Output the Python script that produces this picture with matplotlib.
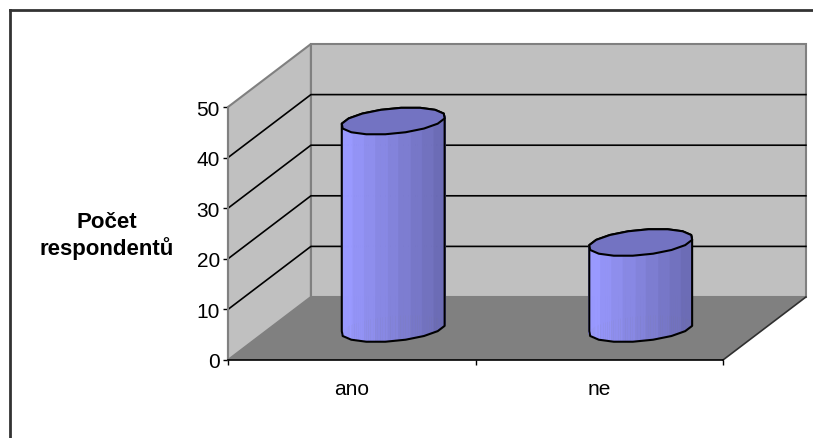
import numpy as np
import matplotlib
matplotlib.use('Agg')
import matplotlib.pyplot as plt
from matplotlib.patches import Polygon
from matplotlib.lines import Line2D

# data
kategorie = ['ano', 'ne']
pocty = [41, 17]
osa_y = [0, 10, 20, 30, 40, 50]
nazev_osy = 'Počet\nrespondentů'

plt.rcParams['font.family'] = ['Liberation Sans', 'DejaVu Sans']

# oblique depth offset of the back wall (category units, value units)
DX = 0.335
DY = 12.45
R = 0.1976     # cylinder radius along x
RZ = 0.214     # cylinder radius as fraction of depth
STENY = 16     # facets of the top lid
PRUHY = 9      # shading bands on the side


def P(x, v, d):
    return (x + d * DX, v + d * DY)


def obal(body):
    # convex hull (monotone chain)
    pts = sorted(set(body))

    def cross(o, a, b):
        return (a[0] - o[0]) * (b[1] - o[1]) - (a[1] - o[1]) * (b[0] - o[0])

    dolni, horni = [], []
    for p in pts:
        while len(dolni) >= 2 and cross(dolni[-2], dolni[-1], p) <= 0:
            dolni.pop()
        dolni.append(p)
    for p in reversed(pts):
        while len(horni) >= 2 and cross(horni[-2], horni[-1], p) <= 0:
            horni.pop()
        horni.append(p)
    return dolni[:-1] + horni[:-1]


def mix(c1, c2, f):
    a = np.array(matplotlib.colors.to_rgb(c1))
    b = np.array(matplotlib.colors.to_rgb(c2))
    return tuple(a + (b - a) * f)


def valec(ax, cx, vyska):
    t = np.linspace(0, 2 * np.pi, STENY + 1) + np.pi / STENY

    def elipsa(v, tt):
        x = cx + R * np.cos(tt) + RZ * DX * np.sin(tt)
        y = v + 0.5 * DY + RZ * DY * np.sin(tt)
        return x, y

    # side in thin strips, coloured in equal-width bands from light (left) to dark (right)
    tj = np.linspace(t[0], t[-1], STENY * 8 + 1)
    xb, yb = elipsa(0, tj)
    xt, yt = elipsa(vyska, tj)
    xmin, xmax = xb.min(), xb.max()
    poradi = sorted(range(len(tj) - 1), key=lambda k: -np.sin((tj[k] + tj[k + 1]) / 2))
    for k in poradi:
        xm = (xb[k] + xb[k + 1]) / 2
        pas = min(int((xm - xmin) / (xmax - xmin) * PRUHY), PRUHY - 1)
        barva = mix('#9999FF', '#6C6CB6', pas / (PRUHY - 1))
        quad = [(xb[k], yb[k]), (xb[k + 1], yb[k + 1]),
                (xt[k + 1], yt[k + 1]), (xt[k], yt[k])]
        ax.add_patch(Polygon(quad, closed=True, facecolor=barva, edgecolor=barva,
                             linewidth=0.3, zorder=5, clip_on=False))

    xb, yb = elipsa(0, t)
    xt, yt = elipsa(vyska, t)
    body = [(float(a), float(b)) for a, b in zip(xb[:-1], yb[:-1])]
    body += [(float(a), float(b)) for a, b in zip(xt[:-1], yt[:-1])]
    ax.add_patch(Polygon(obal(body), closed=True, fill=False, edgecolor='black',
                         linewidth=1.5, zorder=6, clip_on=False, joinstyle='round'))
    ax.add_patch(Polygon(list(zip(xt[:-1], yt[:-1])), closed=True, facecolor='#7373C2',
                         edgecolor='black', linewidth=1.5, zorder=7, clip_on=False,
                         joinstyle='round'))


W, H = 813, 439
fig = plt.figure(figsize=(W / 100, H / 100), dpi=100)
fig.patch.set_facecolor('white')

# front plane of the plot area in pixels
x0, x1, y0, y1 = 228, 723, 361, 108
ax = fig.add_axes([x0 / W, (H - y0) / H, (x1 - x0) / W, (y0 - y1) / H])
ax.set_xlim(0, 2)
ax.set_ylim(0, 50)
ax.patch.set_visible(False)

vmax = osa_y[-1]
n = len(kategorie)

# walls and floor
bok = [P(0, 0, 0), P(0, vmax, 0), P(0, vmax, 1), P(0, 0, 1)]
zad = [P(0, 0, 1), P(n, 0, 1), P(n, vmax, 1), P(0, vmax, 1)]
podl = [P(0, 0, 0), P(n, 0, 0), P(n, 0, 1), P(0, 0, 1)]
ax.add_patch(Polygon(bok, facecolor='#C0C0C0', edgecolor='#808080', linewidth=1.5,
                     zorder=1, clip_on=False))
ax.add_patch(Polygon(zad, facecolor='#C0C0C0', edgecolor='#808080', linewidth=1.5,
                     zorder=1, clip_on=False))
ax.add_patch(Polygon(podl, facecolor='#808080', edgecolor='none', zorder=1.1,
                     clip_on=False))
ax.plot(*zip(P(n, 0, 0), P(n, 0, 1)), color='#303030', linewidth=1.2, zorder=1.2,
        clip_on=False)

# gridlines on the side and back wall
for v in osa_y[1:-1]:
    ax.plot(*zip(P(0, v, 0), P(0, v, 1), P(n, v, 1)), color='black', linewidth=1.2,
            zorder=1.5, clip_on=False)

# cylinders
for i, hodnota in enumerate(pocty):
    valec(ax, i + 0.5 + 0.5 * DX, hodnota)

# axes
for s in ['top', 'right']:
    ax.spines[s].set_visible(False)
ax.spines['left'].set_color('#808080')
ax.spines['left'].set_linewidth(1.5)
ax.spines['bottom'].set_color('black')
ax.spines['bottom'].set_linewidth(1.2)

ax.set_yticks(osa_y)
ax.set_yticklabels([str(v) for v in osa_y])
ax.tick_params(axis='y', length=3.6, width=1, color='black', pad=2.2, labelsize=15)

ax.set_xticks(range(n + 1))
ax.set_xticklabels([''] * (n + 1))
ax.set_xticks([i + 0.5 for i in range(n)], minor=True)
ax.set_xticklabels(kategorie, minor=True)
ax.tick_params(axis='x', which='major', length=3.6, width=1, color='black')
ax.tick_params(axis='x', which='minor', length=0, pad=13.5, labelsize=15)

ax.set_ylabel(nazev_osy, rotation=0, fontsize=16, fontweight='bold',
              ha='center', va='center', linespacing=1.25)
ax.yaxis.set_label_coords((107 - x0) / (x1 - x0), (y0 - 236) / (y0 - y1))

# chart area border (left and top edge)
lx, ty = 10 / W, (H - 11) / H
fig.add_artist(Line2D([lx, lx], [0, ty], transform=fig.transFigure,
                      color='#333333', linewidth=2))
fig.add_artist(Line2D([lx, 1], [ty, ty], transform=fig.transFigure,
                      color='#333333', linewidth=2))

fig.savefig('out.png', dpi=100)
